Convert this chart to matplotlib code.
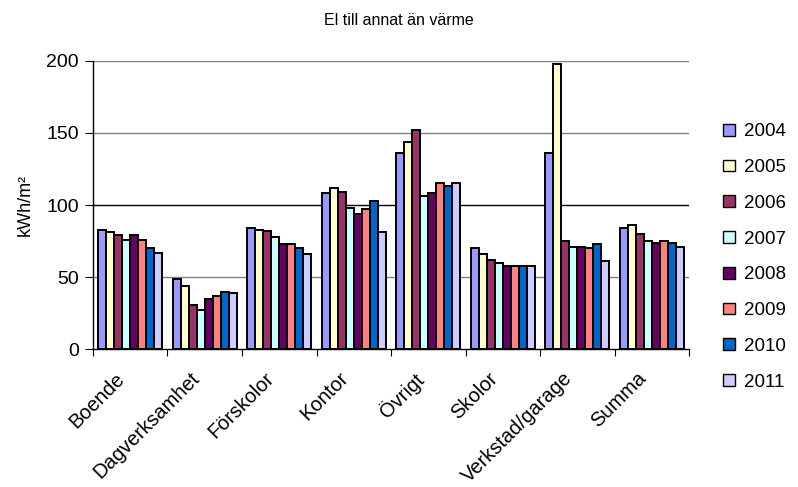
import matplotlib
matplotlib.use("Agg")
import matplotlib.pyplot as plt
from matplotlib.transforms import ScaledTranslation
import numpy as np

plt.rcParams['font.family'] = ['Liberation Sans', 'DejaVu Sans']

categories = ["Boende", "Dagverksamhet", "Förskolor", "Kontor", "Övrigt",
              "Skolor", "Verkstad/garage", "Summa"]
years = ["2004", "2005", "2006", "2007", "2008", "2009", "2010", "2011"]

values = {
    "2004": [83, 49, 84, 108, 136, 70, 136, 84],
    "2005": [81, 44, 83, 112, 144, 66, 198, 86],
    "2006": [79, 31, 82, 109, 152, 62, 75, 80],
    "2007": [76, 27, 78, 98, 106, 60, 71, 75],
    "2008": [79, 35, 73, 94, 108, 58, 71, 74],
    "2009": [76, 37, 73, 97, 115, 58, 70, 75],
    "2010": [70, 40, 70, 103, 113, 58, 73, 74],
    "2011": [67, 39, 66, 81, 115, 58, 61, 71],
}

colors = ["#9999FF", "#FFFFCC", "#993366", "#CCFFFF",
          "#660066", "#FF8080", "#0066CC", "#CCCCFF"]

fig = plt.figure(figsize=(7.98, 4.87), dpi=100)
ax = fig.add_axes([0.1165, 0.2827, 0.747, 0.5927])

n = len(years)
bar_w = 0.108
x = np.arange(len(categories))
for i, (yr, c) in enumerate(zip(years, colors)):
    offs = (i - (n - 1) / 2) * bar_w
    ax.bar(x + offs, values[yr], width=bar_w, color=c, edgecolor="black",
           linewidth=1.4, label=yr, zorder=3)

ax.set_xlim(-0.5, len(categories) - 0.5)
ax.set_ylim(0, 200)
ax.set_yticks([0, 50, 100, 150, 200])
for v in [50, 150, 200]:
    ax.axhline(v, color="#808080", linewidth=1.0, zorder=1)
ax.axhline(100, color="black", linewidth=1.0, zorder=1)

for s in ["top", "right"]:
    ax.spines[s].set_visible(False)
ax.spines["left"].set_linewidth(1.0)
ax.spines["bottom"].set_linewidth(1.0)

# category boundary ticks
ax.set_xticks(np.arange(-0.5, len(categories) + 0.5, 1.0), minor=False)
ax.set_xticklabels([])
ax.tick_params(axis="x", which="major", length=5, direction="out")
ax.set_xticks(x, minor=True)
ax.set_xticklabels(categories, minor=True, rotation=45, ha="right",
                   rotation_mode="anchor", fontsize=14.5)
ax.tick_params(axis="x", which="minor", length=0, pad=14)
shift = ScaledTranslation(-15 / 100, 0, fig.dpi_scale_trans)
for lbl in ax.get_xticklabels(minor=True):
    lbl.set_transform(lbl.get_transform() + shift)
ax.tick_params(axis="y", labelsize=14, length=6, direction="out", pad=4)

ax.set_ylabel("kWh/m²", fontsize=13)
ax.yaxis.set_label_coords(-0.1, 0.5)
fig.text(0.5, 0.958, "El till annat än värme", ha="center", va="center",
         fontsize=11.5)

leg = ax.legend(loc="center left", bbox_to_anchor=(1.045, 0.32), frameon=False,
                fontsize=13.5, handlelength=0.6, handleheight=0.6,
                labelspacing=1.0, handletextpad=0.5, borderaxespad=0)
for h in leg.legend_handles:
    h.set_linewidth(1.0)

fig.savefig("out.png", dpi=100)
